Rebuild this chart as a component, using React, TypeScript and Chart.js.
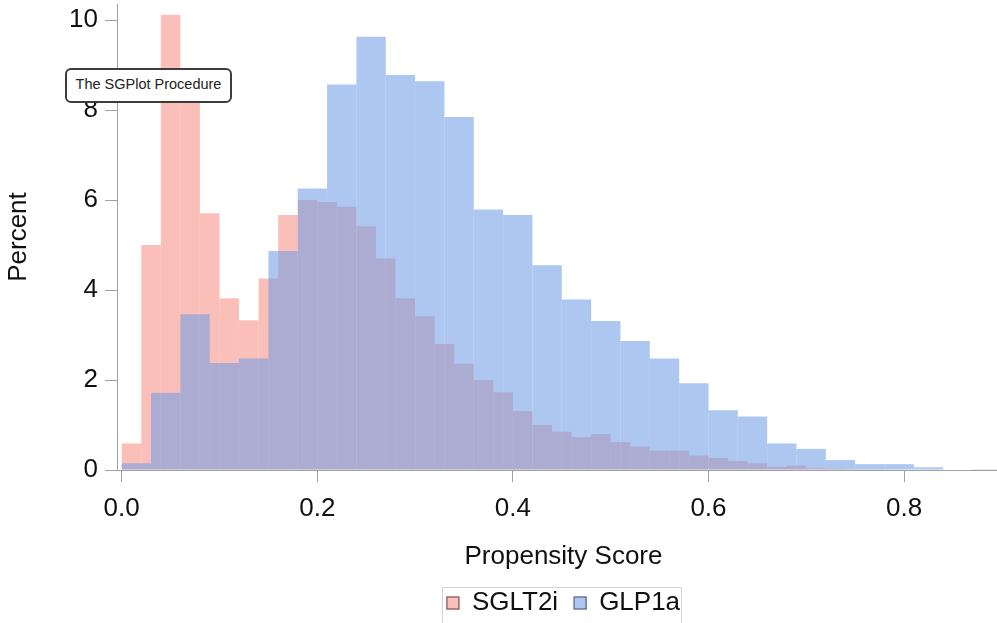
import { useEffect, useRef } from "react";
import { Chart, registerables } from "chart.js";

Chart.register(...registerables);

// Histogram of propensity scores, percent of patients per bin
const sgltBinWidth = 0.02;
const sgltPercent = [
  0.59, 5.0, 10.12, 8.8, 5.71, 3.82, 3.33, 4.26, 5.67, 6.0,
  5.96, 5.85, 5.42, 4.7, 3.82, 3.42, 2.8, 2.36, 2.0, 1.73,
  1.31, 1.0, 0.85, 0.73, 0.8, 0.62, 0.52, 0.43, 0.43, 0.32,
  0.27, 0.2, 0.15, 0.07, 0.1, 0.04, 0.03, 0.02, 0.02, 0.01,
];

const glpBinWidth = 0.03;
const glpPercent = [
  0.15, 1.72, 3.46, 2.38, 2.48, 4.87, 6.26, 8.57, 9.63, 8.78,
  8.64, 7.85, 5.79, 5.67, 4.55, 3.79, 3.31, 2.87, 2.48, 1.93,
  1.33, 1.19, 0.59, 0.47, 0.22, 0.13, 0.13, 0.06, 0, 0.02,
];

const seriesNames = ["SGLT2i", "GLP1a"];
const xTickValues = [0, 0.2, 0.4, 0.6, 0.8];
const yTickValues = [0, 2, 4, 6, 8, 10];
const xRange = [-0.0048, 0.9083];
const yRange = [0, 10.36];
const xTitle = "Propensity Score";
const yTitle = "Percent";
const noteText = "The SGPlot Procedure";

const FONT = "'Liberation Sans', Arial, sans-serif";
const AXIS_GRAY = "#a0a0a0";
const LEGEND_STROKES = ["#9a6a66", "#6a7898"];

// bin centres from bin index and width
const toPoints = (values: number[], width: number) =>
  values.map((y, i) => ({ x: width * i + width / 2, y }));

const legendFrame = {
  id: "legendFrame",
  afterDraw(chart: any) {
    const lg = chart.legend;
    if (!lg || !lg.legendHitBoxes || !lg.legendHitBoxes.length) return;
    const boxes = lg.legendHitBoxes;
    const first = boxes[0];
    const last = boxes[boxes.length - 1];
    const left = Math.round(first.left - 5) + 0.5;
    const right = Math.round(last.left + last.width + 1) + 0.5;
    const top = Math.round(first.top - 3) + 0.5;
    const bottom = top + 40;
    const ctx = chart.ctx;
    ctx.save();
    ctx.strokeStyle = "#d4d4d4";
    ctx.lineWidth = 1;
    ctx.strokeRect(left, top, right - left, bottom - top);
    ctx.restore();
  },
};

export default function App() {
  const canvasRef = useRef<HTMLCanvasElement | null>(null);

  useEffect(() => {
    const canvas = canvasRef.current;
    if (!canvas) return;

    const fixedTicks = (values: number[]) => (scale: any) => {
      scale.ticks = values.map((value) => ({ value }));
    };

    const chart = new Chart(canvas, {
      type: "bar",
      data: {
        datasets: [
          {
            label: seriesNames[0],
            data: toPoints(sgltPercent, sgltBinWidth),
            xAxisID: "x",
            yAxisID: "y",
            backgroundColor: "rgba(247,140,130,0.56)",
            borderWidth: 0,
            inflateAmount: 0,
            barPercentage: 1,
            categoryPercentage: 1,
            grouped: false,
            order: 2,
          },
          {
            label: seriesNames[1],
            data: toPoints(glpPercent, glpBinWidth),
            xAxisID: "x2",
            yAxisID: "y",
            backgroundColor: "rgba(115,158,231,0.58)",
            borderWidth: 0,
            inflateAmount: 0,
            barPercentage: 1,
            categoryPercentage: 1,
            grouped: false,
            order: 1,
          },
        ],
      },
      options: {
        responsive: false,
        animation: false,
        events: [],
        layout: { padding: { top: 4, left: 0, right: 0, bottom: 0 } },
        scales: {
          x: {
            type: "linear",
            position: "bottom",
            offset: false,
            min: xRange[0],
            max: xRange[1],
            afterBuildTicks: fixedTicks(xTickValues),
            afterFit: (scale: any) => {
              scale.height = 104;
            },
            grid: {
              offset: false,
              drawOnChartArea: false,
              drawTicks: true,
              tickLength: 12,
              color: AXIS_GRAY,
            },
            border: { display: true, color: AXIS_GRAY, width: 1 },
            ticks: {
              padding: 11,
              maxRotation: 0,
              autoSkip: false,
              color: "#111",
              font: { family: FONT, size: 26 },
              callback: (v: any) => Number(v).toFixed(1),
            },
            title: {
              display: true,
              text: xTitle,
              color: "#111",
              font: { family: FONT, size: 26 },
              padding: { top: 0, bottom: 2 },
            },
          },
          x2: {
            type: "linear",
            position: "bottom",
            display: false,
            offset: false,
            grid: { offset: false },
            min: xRange[0],
            max: xRange[1],
            afterBuildTicks: fixedTicks(xTickValues),
          },
          y: {
            type: "linear",
            position: "left",
            min: yRange[0],
            max: yRange[1],
            afterBuildTicks: fixedTicks(yTickValues),
            afterFit: (scale: any) => {
              scale.width = 117;
              scale.paddingTop = 0;
              scale.paddingBottom = 0;
            },
            grid: {
              drawOnChartArea: false,
              drawTicks: true,
              tickLength: 12,
              color: AXIS_GRAY,
            },
            border: { display: true, color: AXIS_GRAY, width: 1 },
            ticks: {
              padding: 7,
              color: "#111",
              font: { family: FONT, size: 26 },
              callback: (v: any) => String(v),
            },
            title: {
              display: true,
              text: yTitle,
              color: "#111",
              font: { family: FONT, size: 26 },
              padding: { top: 3, bottom: 0 },
            },
          },
        },
        plugins: {
          tooltip: { enabled: false },
          legend: {
            display: true,
            position: "bottom",
            fullSize: false,
            labels: {
              color: "#111",
              font: { family: FONT, size: 26 },
              boxWidth: 12,
              boxHeight: 12,
              padding: 16,
              sort: (a: any, b: any) => a.datasetIndex - b.datasetIndex,
              generateLabels: (c: any) => {
                const base = Chart.defaults.plugins.legend.labels.generateLabels(c);
                return base.map((item: any) => ({
                  ...item,
                  strokeStyle: LEGEND_STROKES[item.datasetIndex],
                  lineWidth: 1.5,
                }));
              },
            },
          },
        },
      } as any,
      plugins: [legendFrame],
    });

    return () => chart.destroy();
  }, []);

  return (
    <div
      style={{
        position: "fixed",
        left: 0,
        top: 0,
        width: 997,
        height: 623,
        overflow: "hidden",
        background: "#fff",
      }}
    >
      <canvas ref={canvasRef} width={1010} height={626} style={{ display: "block" }} />
      <div
        style={{
          position: "absolute",
          left: 65,
          top: 68,
          width: 167,
          height: 35,
          boxSizing: "border-box",
          border: "2px solid #3c3c3c",
          borderRadius: 6,
          background: "#fff",
          display: "flex",
          alignItems: "center",
          justifyContent: "center",
          paddingBottom: 4,
          fontFamily: FONT,
          fontSize: 14.5,
          color: "#222",
          whiteSpace: "nowrap",
        }}
      >
        {noteText}
      </div>
    </div>
  );
}
